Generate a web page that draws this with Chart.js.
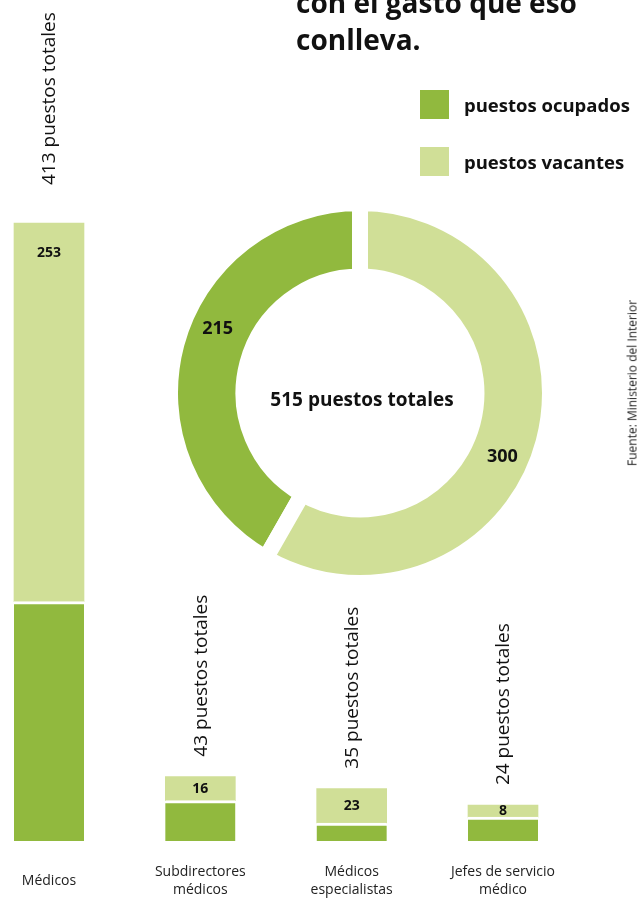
<!DOCTYPE html>
<html>
<head>
<meta charset="utf-8">
<script src="https://cdn.jsdelivr.net/npm/chart.js@4.4.1/dist/chart.umd.min.js"></script>
<style>
html,body{margin:0;padding:0;background:#fff;}
body{width:639px;height:898px;position:relative;overflow:hidden;font-family:"Open Sans",sans-serif;}
#bar{position:absolute;left:0;top:0;}
#donut{position:absolute;left:162px;top:195px;}
.title{position:absolute;left:296px;top:-16px;font-weight:700;font-size:28px;line-height:37px;color:#111;white-space:nowrap;}
.sq{position:absolute;left:420px;width:29px;height:29px;}
.lt{position:absolute;left:464px;font-weight:700;font-size:18.5px;line-height:20px;color:#111;white-space:nowrap;}
.src{position:absolute;left:632px;top:383px;transform:translate(-50%,-50%) rotate(-90deg);font-size:12px;color:#222;white-space:nowrap;}
</style>
</head>
<body>
<canvas id="bar" width="639" height="898"></canvas>
<canvas id="donut" width="396" height="396"></canvas>
<div class="title">con el gasto que eso<br>conlleva.</div>
<div class="sq" style="top:90px;background:#91B93E"></div>
<div class="lt" style="top:95px">puestos ocupados</div>
<div class="sq" style="top:147px;background:#D0DF97"></div>
<div class="lt" style="top:152px">puestos vacantes</div>
<div class="src">Fuente: Ministerio del Interior</div>
<script>
const DARK = '#91B93E';
const LIGHT = '#D0DF97';

const categories = [['Médicos'], ['Subdirectores', 'médicos'], ['Médicos', 'especialistas'], ['Jefes de servicio', 'médico']];
const ocupados = [160, 27, 12, 16];
const vacantes = [253, 16, 23, 8];
const totales = [413, 43, 35, 24];

const donutLabels = ['puestos ocupados', 'puestos vacantes'];
const donutValues = [215, 300];
const donutTotal = 515;

const barLabels = {
  id: 'barLabels',
  afterDatasetsDraw(chart) {
    const ctx = chart.ctx;
    const vMeta = chart.getDatasetMeta(1);
    vMeta.data.forEach((el, i) => {
      const top = el.y, base = el.base;
      const h = base - top;
      ctx.save();
      ctx.fillStyle = '#111';
      ctx.font = '700 14px "Open Sans"';
      ctx.textAlign = 'center';
      ctx.textBaseline = 'middle';
      ctx.fillText(String(vacantes[i]), el.x, top + Math.min(h / 2, 30));
      const gap = i === 0 ? 38 : 20;
      ctx.translate(el.x + 1, top - gap);
      ctx.rotate(-Math.PI / 2);
      ctx.textAlign = 'left';
      ctx.font = '400 19px "Open Sans"';
      ctx.fillText(totales[i] + ' puestos totales', 0, 0);
      ctx.restore();
    });
  }
};

new Chart(document.getElementById('bar'), {
  type: 'bar',
  data: {
    labels: categories,
    datasets: [
      { label: 'puestos ocupados', data: ocupados, backgroundColor: DARK, borderColor: '#fff',
        borderWidth: { top: 3, right: 0, bottom: 0, left: 0 }, borderSkipped: false, barThickness: 70, clip: false },
      { label: 'puestos vacantes', data: vacantes, backgroundColor: LIGHT, borderWidth: 0, barThickness: 70, clip: false }
    ]
  },
  options: {
    responsive: false,
    animation: false,
    devicePixelRatio: 1,
    layout: { padding: { left: 49, right: 136, top: 223, bottom: 0 } },
    plugins: { legend: { display: false }, tooltip: { enabled: false } },
    scales: {
      x: {
        stacked: true,
        offset: false,
        grid: { display: false, drawTicks: true, tickLength: 16 },
        border: { display: false },
        ticks: { color: '#222', font: { family: 'Open Sans', size: 14, lineHeight: 1.3 }, padding: 15, crossAlign: 'center', maxRotation: 0, autoSkip: false },
        afterFit(scale) { scale.height = 57; }
      },
      y: {
        stacked: true,
        display: false,
        min: 0,
        max: totales[0]
      }
    }
  },
  plugins: [barLabels]
});

const donutText = {
  id: 'donutText',
  afterDatasetsDraw(chart) {
    const ctx = chart.ctx;
    const meta = chart.getDatasetMeta(0);
    ctx.save();
    ctx.fillStyle = '#111';
    ctx.textAlign = 'center';
    ctx.textBaseline = 'middle';
    ctx.font = '700 18px "Open Sans"';
    let cx = 0, cy = 0;
    meta.data.forEach((arc, i) => {
      cx = arc.x; cy = arc.y;
      const mid = (arc.startAngle + arc.endAngle) / 2 + 0.165;
      const r = (arc.innerRadius + arc.outerRadius) / 2 + 3;
      ctx.fillText(String(donutValues[i]), arc.x + Math.cos(mid) * r, arc.y + Math.sin(mid) * r);
    });
    ctx.font = '700 19px "Open Sans"';
    ctx.fillText(donutTotal + ' puestos totales', cx + 2, cy + 8);
    ctx.restore();
  }
};

new Chart(document.getElementById('donut'), {
  type: 'doughnut',
  data: {
    labels: donutLabels,
    datasets: [{ data: donutValues, backgroundColor: [DARK, LIGHT], borderColor: '#fff', borderWidth: 16, hoverBorderWidth: 16, borderAlign: 'center', hoverOffset: 0 }]
  },
  options: {
    responsive: false,
    animation: false,
    devicePixelRatio: 1,
    rotation: -donutValues[0] / donutTotal * 360,
    cutout: '61.3%',
    layout: { padding: 0 },
    plugins: { legend: { display: false }, tooltip: { enabled: false } }
  },
  plugins: [donutText]
});
</script>
</body>
</html>
